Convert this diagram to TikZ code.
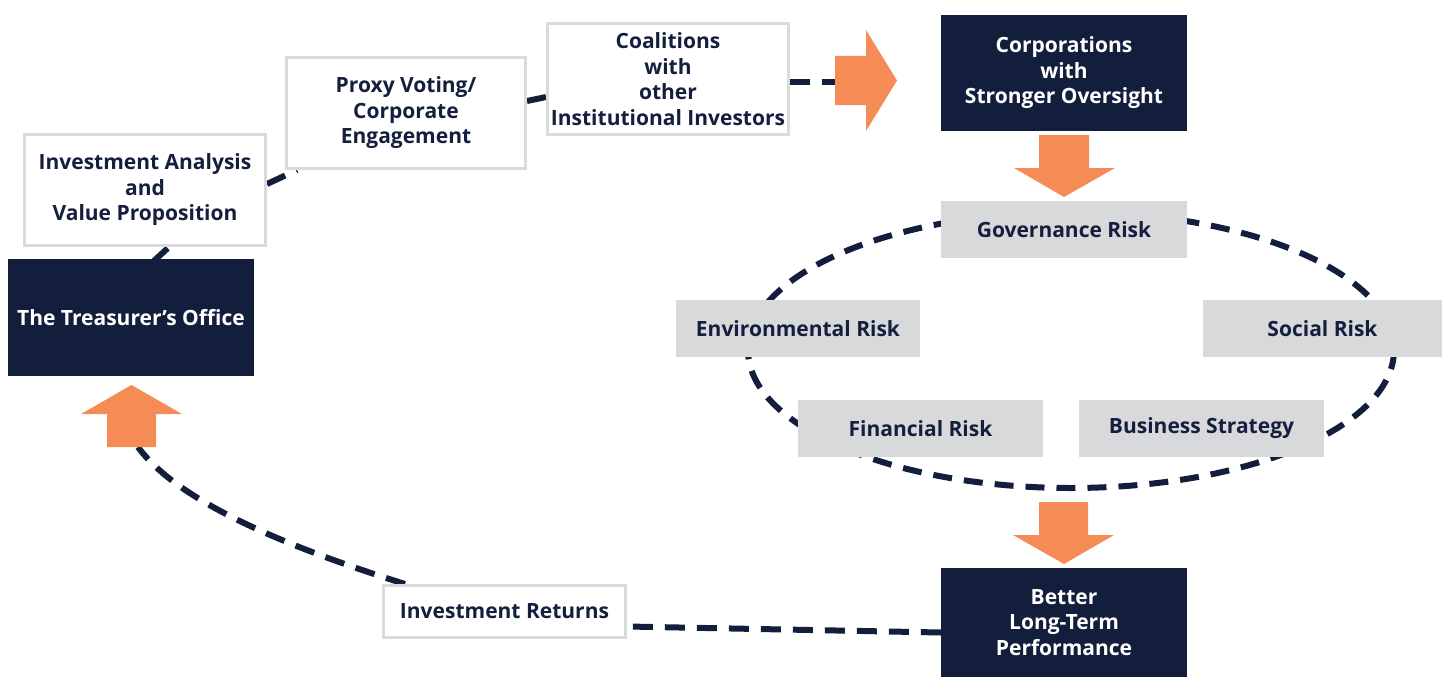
\documentclass[tikz,border=0pt]{standalone}
\usepackage{fontspec}
\setmainfont{Open Sans}
\definecolor{navy}{HTML}{131E3D}
\definecolor{navytext}{HTML}{141F3E}
\definecolor{arroworange}{HTML}{F68C55}
\definecolor{bordergray}{HTML}{D9DADC}
\definecolor{riskgray}{HTML}{D8D9DB}
\pgfdeclarelayer{background}
\pgfsetlayers{background,main}
\begin{document}
\begin{tikzpicture}[x=1pt,y=-1pt,
  every node/.style={font=\fontsize{21}{25.5}\selectfont\bfseries, align=center, inner sep=0pt},
  dark/.style={fill=navy, text=white, minimum width=246pt, minimum height=117pt},
  outline/.style={draw=bordergray, line width=3pt, fill=white, text=navytext},
  riskbox/.style={fill=riskgray, text=navytext, minimum width=245pt, minimum height=57pt},
  conn/.style={draw=navy, line width=6pt, dash pattern=on 20pt off 12pt},
  bigarrow/.style={fill=arroworange}]
\useasboundingbox (0,0) rectangle (1442,677);

% boxes
\node[dark] (tre) at (131,317.5) {The Treasurer’s Office};
\node[outline, minimum width=241pt, minimum height=111pt] (ia) at (145,190) {Investment Analysis\\and\\Value Proposition};
\node[outline, minimum width=239pt, minimum height=111pt] (pv) at (406,113) {Proxy Voting/\\Corporate\\Engagement};
\node[outline, minimum width=241pt, minimum height=111pt] (co) at (668,79) {Coalitions\\with\\other\\Institutional Investors};
\node[dark, minimum height=116pt] (corp) at (1064,73) {Corporations\\with\\Stronger Oversight};
\node[riskbox, minimum width=246pt] (gov) at (1064,229.5) {Governance Risk};
\node[riskbox, minimum width=244pt] (env) at (798,328.5) {Environmental Risk};
\node[riskbox, minimum width=239pt] (soc) at (1322.5,328.5) {Social Risk};
\node[riskbox] (fin) at (920.5,428.5) {Financial Risk};
\node[riskbox] (bus) at (1201.5,428.5) {Business Strategy};
\node[dark, minimum height=109pt] (bet) at (1064,622.5) {Better\\Long-Term\\Performance};
\node[outline, minimum width=242pt, minimum height=52pt] (ir) at (504.5,611.5) {Investment Returns};

% orange arrows
\fill[bigarrow] (835,56) -- (866,56) -- (866,30) -- (897,80.5) -- (866,131) -- (866,105) -- (835,105) -- cycle;
\coordinate (rarr) at (836,82);
\fill[bigarrow] (1039,135) -- (1089,135) -- (1089,168) -- (1115,168) -- (1064,197) -- (1014,168) -- (1039,168) -- cycle;
\fill[bigarrow] (1039,502) -- (1088,502) -- (1088,535) -- (1114,535) -- (1064,564) -- (1013,535) -- (1039,535) -- cycle;
\fill[bigarrow] (107,447) -- (156,447) -- (156,414) -- (182,414) -- (131.5,385) -- (81,414) -- (107,414) -- cycle;
\coordinate (uarr) at (138,447);

% connectors
\begin{pgfonlayer}{background}
\draw[conn, dash pattern=on 19pt off 12pt] (1071,350) ellipse [x radius=323pt, y radius=138pt];
\draw[conn] ([xshift=22pt,yshift=-3pt]tre.north) -- ([xshift=24pt]ia.south);
\draw[conn] ([yshift=6pt]ia.east) -- ([xshift=12pt]pv.south west);
\draw[conn] ([yshift=12pt]pv.east) -- ([yshift=-18pt]co.west);
\draw[conn] ([yshift=-3pt]co.east) -- (rarr);
\draw[conn] ([yshift=-10pt]bet.west) -- ([yshift=-15pt]ir.east);
\draw[conn] ([xshift=23pt]ir.north west) .. controls (300,551) and (180,505) .. (uarr);
\end{pgfonlayer}
\end{tikzpicture}
\end{document}
